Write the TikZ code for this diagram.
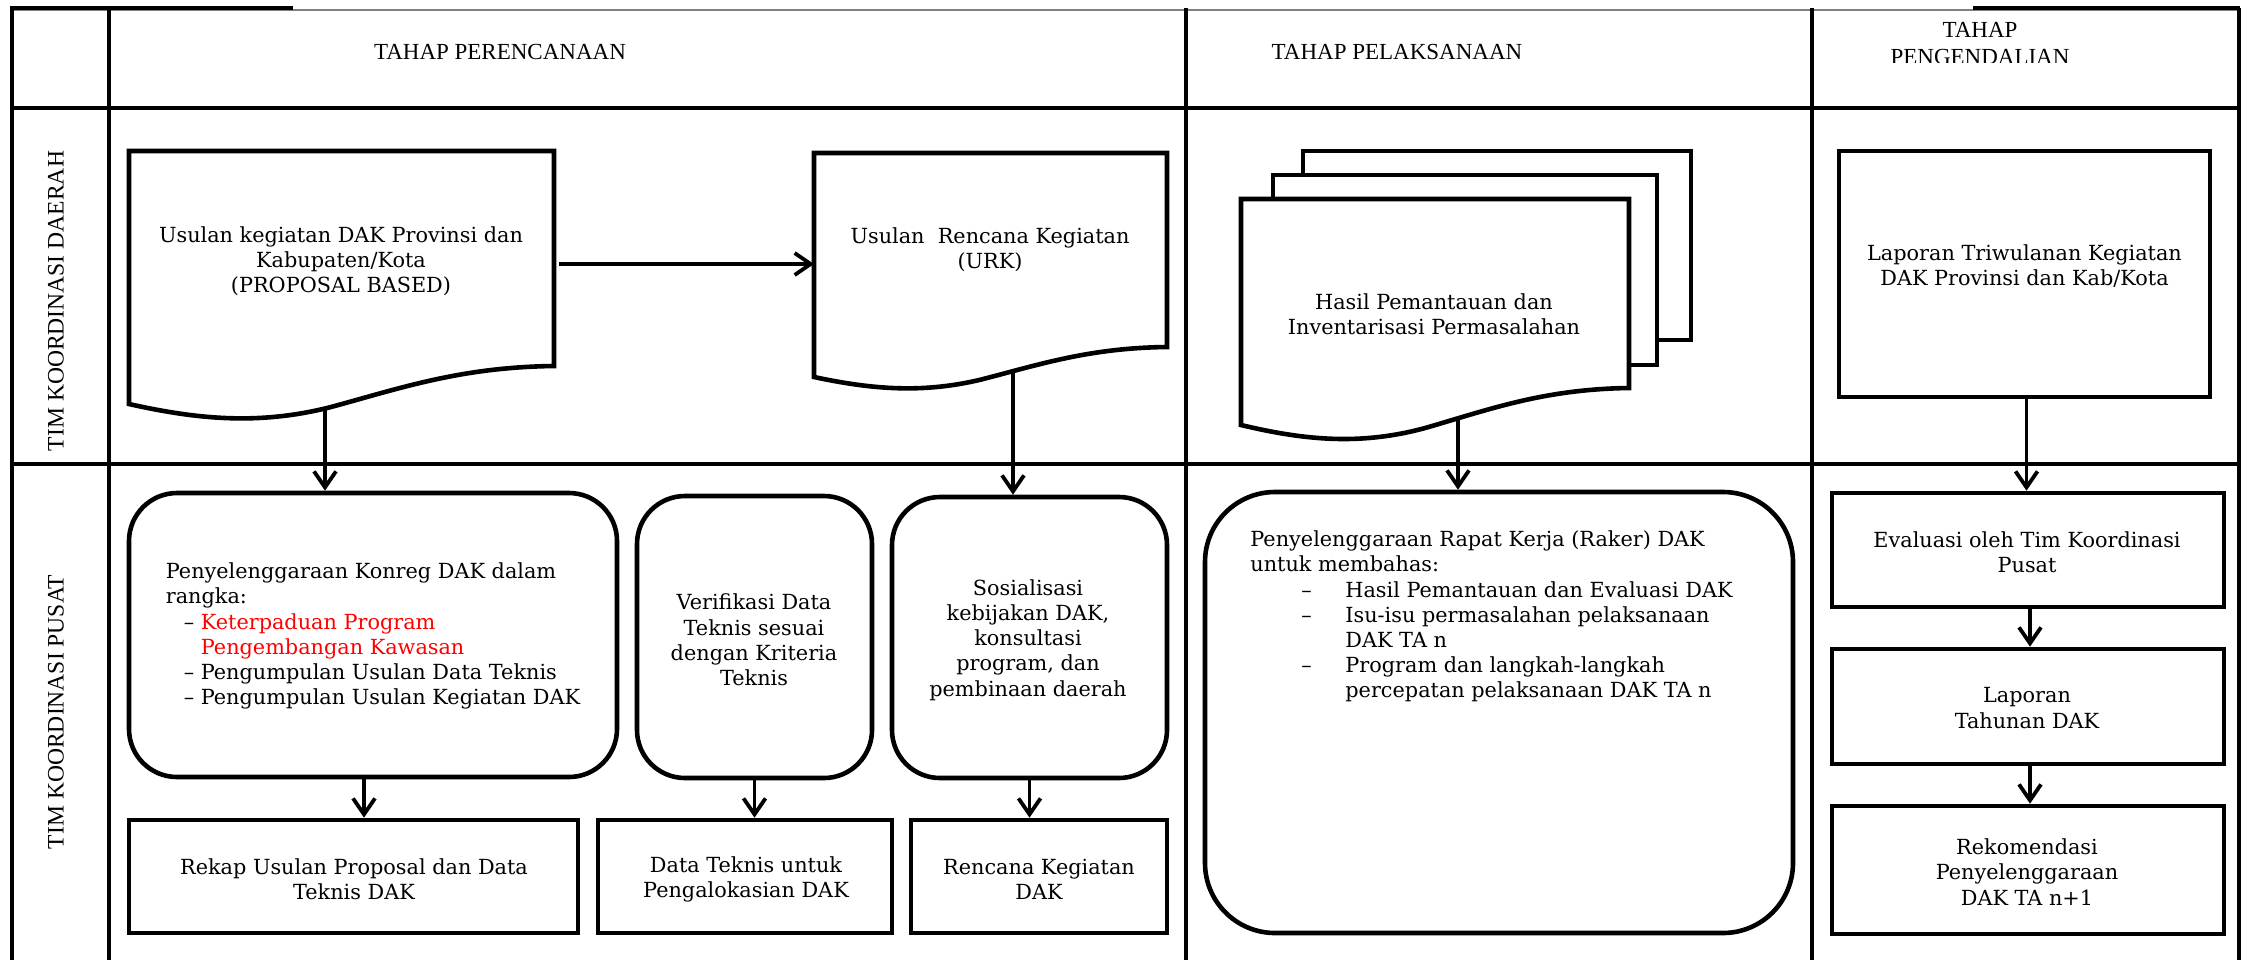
\documentclass[tikz,border=0pt]{standalone}
\usepackage{fontspec}
\setmainfont{DejaVu Serif}
\newfontfamily\timesfont{Liberation Serif}
\usetikzlibrary{arrows.meta,fit}

% document shape: [style]{x0}{x1}{top}{yLeftBottom}{yRightBottom}
\newcommand\mydoc[6][]{%
  \pgfmathsetmacro\dw{#3-#2}%
  \pgfmathsetmacro\dd{#5-#6}%
  \draw[#1] (#2,#4) -- (#3,#4) -- (#3,#6)
    .. controls ({#2+0.78*\dw},{#5-0.97*\dd}) and ({#2+0.64*\dw},{#5-0.42*\dd}) .. ({#2+0.475*\dw},{#5+0.08*\dd})
    .. controls ({#2+0.31*\dw},{#5+0.55*\dd}) and ({#2+0.167*\dw},{#5+0.42*\dd}) .. (#2,#5) -- cycle;}

\begin{document}
\begin{tikzpicture}[x=0.5pt,y=-0.5pt,
  grid/.style={line width=1.9pt,black},
  outline/.style={draw,line width=2.3pt,fill=white},
  box/.style={draw,line width=2.3pt,inner sep=0pt,fill=white,
    font=\fontsize{10.4}{12.6}\selectfont,align=center},
  rbox/.style={box,rounded corners=24pt},
  txt/.style={inner sep=0pt,font=\fontsize{10.4}{12.6}\selectfont,align=center},
  head/.style={inner sep=0pt,font=\timesfont\fontsize{11.5}{13.3}\selectfont,align=center},
  side/.style={inner sep=0pt,font=\timesfont\fontsize{11.8}{14}\selectfont,rotate=90},
  arr/.style={line width=1.9pt,-{Straight Barb[length=8pt,width=11pt]}}]
\useasboundingbox (0,0) rectangle (2249,960);

% ---------- table grid ----------
\draw[line width=1pt,gray] (12,9.5) -- (2239,9.5);
\draw[line width=2.2pt] (10,8) -- (293,8);
\draw[line width=2.2pt] (1973,8) -- (2240,8);
\foreach \xx in {12,109,1186,1812,2239}
  \draw[grid] (\xx,8) -- (\xx,960);
\draw[grid,line width=2.2pt] (12,108) -- (2239,108);
\draw[grid,line width=2.2pt] (12,464) -- (2239,464);

% ---------- headers ----------
\node[head] (h1) at (500,52) {TAHAP PERENCANAAN};
\node[head] (h2) at (1397,52) {TAHAP PELAKSANAAN};
\begin{scope}
  \clip (1812,10) rectangle (2239,62);
  \node[head,anchor=north] (h3) at (1980,22) {TAHAP\\PENGENDALIAN};
\end{scope}
\node[side] (s1) at (56,301) {TIM KOORDINASI DAERAH};
\node[side] (s2) at (56,712) {TIM KOORDINASI PUSAT};

% ---------- Tim Koordinasi Daerah row ----------
\mydoc[outline]{129}{554}{151}{404}{366}
\node[txt] (d1) at (341,261) {Usulan kegiatan DAK Provinsi dan\\Kabupaten/Kota\\(PROPOSAL BASED)};
\coordinate (d1e) at (559,264);
\coordinate (d1b) at (325,407.5);

\mydoc[outline]{814}{1167}{153}{377}{347}
\node[txt] (d2) at (990,250) {Usulan~ Rencana Kegiatan\\(URK)};
\coordinate (d2w) at (814,264);
\coordinate (d2b) at (1013,371);

% stacked documents
\draw[outline] (1303,151) -- (1691,151) -- (1691,340) -- (1303,340) -- cycle;
\draw[outline] (1273,175) -- (1657,175) -- (1657,365) -- (1273,365) -- cycle;
\mydoc[outline]{1241}{1629}{199}{425}{388}
\node[txt] (d3) at (1434,314) {Hasil Pemantauan dan\\Inventarisasi Permasalahan};
\coordinate (d3b) at (1458,419);

\node[box,fit={(1839,151) (2210,397)}] (lt) {Laporan Triwulanan Kegiatan\\DAK Provinsi dan Kab/Kota};

% ---------- Tim Koordinasi Pusat row ----------
\node[rbox,fit={(129,493) (617,777)}] (konreg) {};
\node[txt,align=left] (konregtxt) at (373,636) {Penyelenggaraan Konreg DAK dalam\\
rangka:\\
\hspace*{9pt}\makebox[8.5pt][l]{–}\textcolor{red}{Keterpaduan Program}\\
\hspace*{17.5pt}\textcolor{red}{Pengembangan Kawasan}\\
\hspace*{9pt}\makebox[8.5pt][l]{–}Pengumpulan Usulan Data Teknis\\
\hspace*{9pt}\makebox[8.5pt][l]{–}Pengumpulan Usulan Kegiatan DAK};

\node[rbox,fit={(637,496) (872,778)}] (verif) {};
\node[txt] (veriftxt) at (754,640) {Verifikasi Data\\Teknis sesuai\\dengan Kriteria\\Teknis};

\node[rbox,fit={(892,497) (1167,778)}] (sos) {};
\node[txt] (sostxt) at (1028,640) {Sosialisasi\\kebijakan DAK,\\konsultasi\\program, dan\\pembinaan daerah};

\node[box,fit={(129,820) (578,933)}] (rekap) {};
\node[txt] (rekaptxt) at (354,879) {Rekap Usulan Proposal dan Data\\Teknis DAK};
\node[box,fit={(598,820) (892,933)}] (dtek) {};
\node[txt] (dtektxt) at (746,879) {Data Teknis untuk\\Pengalokasian DAK};
\node[box,fit={(911,820) (1167,933)}] (renc) {};
\node[txt] (renctxt) at (1039,879) {Rencana Kegiatan\\DAK};

\node[box,rounded corners=35pt,fit={(1205,492) (1793,933)}] (raker) {};
\node[txt,align=left,anchor=west] (rakertxt) at (1250,616.5) {Penyelenggaraan Rapat Kerja (Raker) DAK\\
untuk membahas:\\
\hspace*{25.5pt}\makebox[22pt][l]{–}Hasil Pemantauan dan Evaluasi DAK\\
\hspace*{25.5pt}\makebox[22pt][l]{–}Isu-isu permasalahan pelaksanaan\\
\hspace*{47.5pt}DAK TA n\\
\hspace*{25.5pt}\makebox[22pt][l]{–}Program dan langkah-langkah\\
\hspace*{47.5pt}percepatan pelaksanaan DAK TA n};

\node[box,fit={(1832,493) (2224,607)}] (eval) {};
\node[txt] (evaltxt) at (2027,552) {Evaluasi oleh Tim Koordinasi\\Pusat};
\node[box,fit={(1832,649) (2224,764)}] (lthn) {};
\node[txt] (lthntxt) at (2027,708) {Laporan\\Tahunan DAK};
\node[box,fit={(1832,806) (2224,934)}] (rekom) {};
\node[txt] (rekomtxt) at (2027,872) {Rekomendasi\\Penyelenggaraan\\DAK TA n+1};

% ---------- connectors ----------
\draw[arr] (d1e) -- (d2w);
\draw[arr] (d1b) -- (d1b |- konreg.north);
\draw[arr] (d2b) -- (d2b |- sos.north);
\draw[arr] (d3b) -- (d3b |- raker.north);
\draw[arr] ([xshift=1pt]lt.south) -- ([xshift=1pt]lt.south |- eval.north);
\draw[arr] ([xshift=-4.5pt]konreg.south) -- ([xshift=-4.5pt]konreg.south |- rekap.north);
\draw[arr] (verif.south) -- (verif.south |- dtek.north);
\draw[arr] (sos.south) -- (sos.south |- renc.north);
\draw[arr] ([xshift=1pt]eval.south) -- ([xshift=1pt]eval.south |- lthn.north);
\draw[arr] ([xshift=1pt]lthn.south) -- ([xshift=1pt]lthn.south |- rekom.north);
\end{tikzpicture}
\end{document}
